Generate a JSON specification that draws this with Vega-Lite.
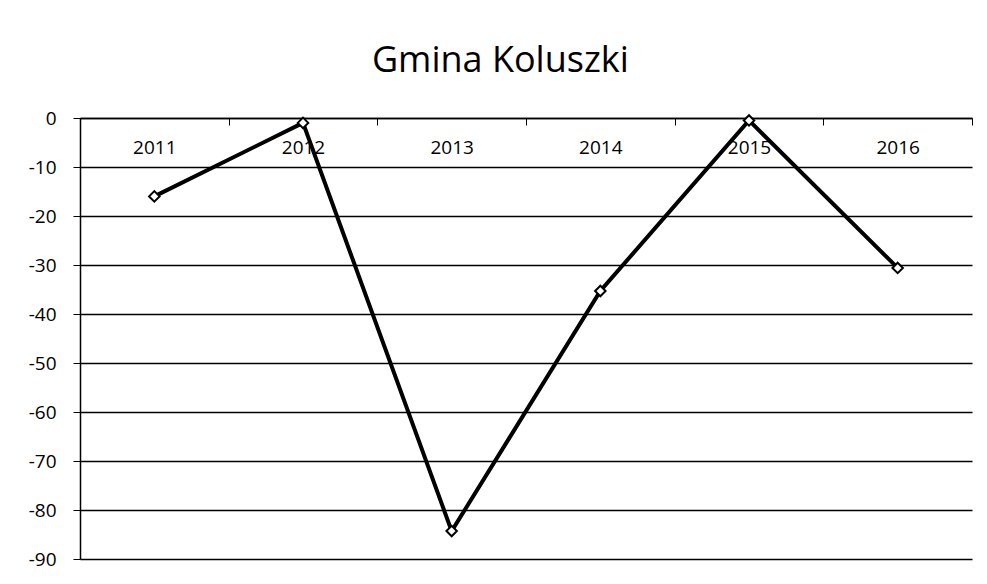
{
  "$schema": "https://vega.github.io/schema/vega-lite/v6.json",
  "autosize": "none",
  "width": 892,
  "height": 441,
  "padding": {"left": 80, "top": 118, "right": 15, "bottom": 25},
  "background": "white",
  "title": {"text": "Gmina Koluszki", "fontSize": 36, "font": "Open Sans", "fontWeight": "normal", "color": "black", "anchor": "middle", "frame": "bounds", "offset": 29},
  "data": {"values": [
    {"year": "2011", "value": -16},
    {"year": "2012", "value": -1},
    {"year": "2013", "value": -84.3},
    {"year": "2014", "value": -35.3},
    {"year": "2015", "value": -0.5},
    {"year": "2016", "value": -30.6}
  ]},
  "encoding": {
    "x": {"field": "year", "type": "ordinal", "title": null,
      "scale": {"paddingInner": 0, "paddingOuter": 0},
      "axis": {"orient": "top", "labelAngle": 0, "domainColor": "black", "domainWidth": 1.5, "tickColor": "black", "tickBand": "extent", "tickSize": -7, "labelPadding": -32, "labelFont": "Open Sans", "labelFontSize": 19, "labelColor": "black", "grid": false}},
    "y": {"field": "value", "type": "quantitative", "title": null,
      "scale": {"domain": [-90, 0], "nice": false},
      "axis": {"values": [0, -10, -20, -30, -40, -50, -60, -70, -80, -90], "labelExpr": "replace(datum.label, '−', '-')", "domainColor": "black", "domainWidth": 1.5, "tickColor": "black", "tickSize": 7, "labelPadding": 17, "labelFont": "Open Sans", "labelFontSize": 19, "labelColor": "black", "gridColor": "black", "gridWidth": 1.5, "gridOpacity": 1}}
  },
  "layer": [
    {"mark": {"type": "line", "color": "black", "strokeWidth": 4}},
    {"mark": {"type": "point", "shape": "diamond", "filled": true, "fill": "white", "stroke": "black", "strokeWidth": 2, "size": 110, "opacity": 1}}
  ],
  "config": {"view": {"stroke": null}}
}
